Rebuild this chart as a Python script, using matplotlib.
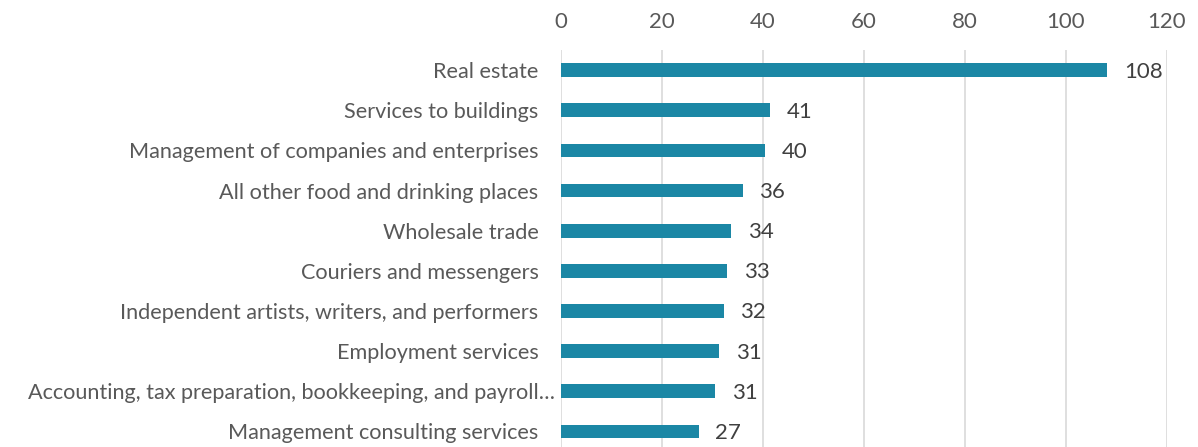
import matplotlib
matplotlib.use("Agg")
import matplotlib.pyplot as plt
import matplotlib.transforms as mtransforms

categories = [
    "Real estate",
    "Services to buildings",
    "Management of companies and enterprises",
    "All other food and drinking places",
    "Wholesale trade",
    "Couriers and messengers",
    "Independent artists, writers, and performers",
    "Employment services",
    "Accounting, tax preparation, bookkeeping, and payroll\u2026",
    "Management consulting services",
]
values = [108.2, 41.4, 40.4, 36.0, 33.8, 32.9, 32.3, 31.4, 30.6, 27.3]
xticks = [0, 20, 40, 60, 80, 100, 120]

plt.rcParams['font.family'] = ['Lato', 'DejaVu Sans']

fig = plt.figure(figsize=(11.98, 4.47), dpi=100)
ax = fig.add_axes([0.468, -0.01, 0.506, 0.898])

n = len(categories)
ypos = list(range(n))
ax.barh(ypos, values, height=0.34, color="#1b87a5", zorder=3)
ax.set_ylim(n - 0.5, -0.5)
ax.set_xlim(0, 120)
ax.set_yticks(ypos)
ax.set_yticklabels(categories, fontsize=15.6, color="#595959")
ax.set_xticks(xticks)
ax.set_xticklabels([str(t) for t in xticks], fontsize=16, color="#595959")
ax.xaxis.tick_top()
ax.tick_params(axis='both', length=0)
ax.tick_params(axis='x', pad=13)
ax.tick_params(axis='y', pad=16)
for s in ax.spines.values():
    s.set_visible(False)
ax.grid(axis='x', color="#d9d9d9", linewidth=1.2, zorder=0)

# the truncated long label overflows slightly to the right, as in the reference
lbl = ax.get_yticklabels()[8]
lbl.set_transform(lbl.get_transform() + mtransforms.ScaledTranslation(12 / 72, 0, fig.dpi_scale_trans))

for y, v in zip(ypos, values):
    ax.annotate(f"{v:.0f}", (v, y), xytext=(12, -1), textcoords="offset points",
                va="center", ha="left", fontsize=16, color="#404040")

fig.savefig("out.png", dpi=100)
